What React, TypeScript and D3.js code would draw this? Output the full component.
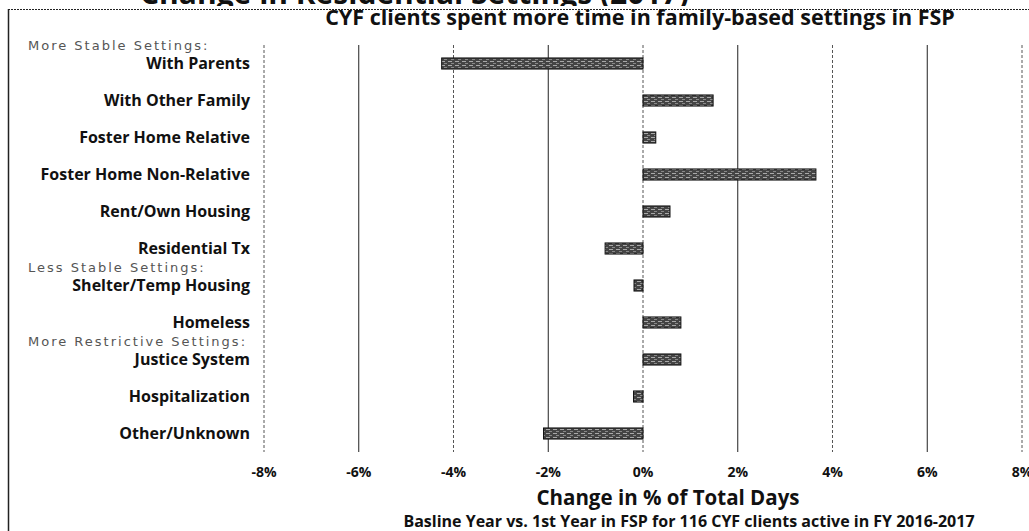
import React from 'react';
import * as d3 from 'd3';

const categories = [
  'With Parents',
  'With Other Family',
  'Foster Home Relative',
  'Foster Home Non-Relative',
  'Rent/Own Housing',
  'Residential Tx',
  'Shelter/Temp Housing',
  'Homeless',
  'Justice System',
  'Hospitalization',
  'Other/Unknown',
];

// change in % of total days
const changes = [-4.25, 1.48, 0.27, 3.65, 0.57, -0.8, -0.19, 0.8, 0.8, -0.2, -2.1];

const ticks = [-8, -6, -4, -2, 0, 2, 4, 6, 8];

const groups = [
  { label: 'More Stable Settings:', before: 'With Parents' },
  { label: 'Less Stable Settings:', before: 'Shelter/Temp Housing' },
  { label: 'More Restrictive Settings:', before: 'Justice System' },
];

const W = 1029;
const H = 531;
const FONT = '"Open Sans", Lato, sans-serif';

const App = () => {
  const x = d3.scaleLinear().domain([-8, 8]).range([264, 1022]);
  const y = d3.scaleBand<string>()
    .domain(categories)
    .range([45, 452])
    .paddingInner(0.7)
    .paddingOuter(0.35);

  const plotTop = 45;
  const plotBottom = 452;

  return (
    <svg width={W} height={H} style={{ display: 'block', position: 'absolute', left: 0, top: 0, background: '#fff' }}>
      <defs>
        <pattern id="grain" width="7" height="4" patternUnits="userSpaceOnUse">
          <rect width="7" height="4" fill="#444" />
          <rect x="0" y="1" width="4" height="1" fill="#a8a8a8" />
          <rect x="3" y="3" width="3" height="1" fill="#888" />
        </pattern>
        <clipPath id="topclip">
          <rect x="0" y="0" width={W} height="6" />
        </clipPath>
      </defs>

      {/* cut-off page heading */}
      <g clipPath="url(#topclip)">
        <text x={140} y={4} style={{ font: `bold 30px ${FONT}`, fill: '#111' }}>
          Change in Residential Settings (2017)
        </text>
      </g>

      {/* frame */}
      <line x1={8} x2={W} y1={9.5} y2={9.5} stroke="#222" strokeWidth={1.2} strokeDasharray="2,1" />
      <line x1={8.5} x2={8.5} y1={9} y2={H} stroke="#222" strokeWidth={1.5} />

      <text x={640} y={25} textAnchor="middle" style={{ font: `bold 21.5px ${FONT}`, fill: '#111' }}>
        CYF clients spent more time in family-based settings in FSP
      </text>

      {/* gridlines */}
      {ticks.map((t, i) => (
        <line
          key={t}
          x1={x(t)}
          x2={x(t)}
          y1={plotTop}
          y2={plotBottom}
          stroke={i % 2 === 1 ? '#222' : '#555'}
          strokeWidth={1}
          strokeDasharray={i % 2 === 1 ? undefined : '3,2'}
        />
      ))}

      {/* bars */}
      {categories.map((c, i) => {
        const v = changes[i];
        return (
          <rect
            key={c}
            x={x(Math.min(0, v))}
            y={y(c)}
            width={Math.abs(x(v) - x(0))}
            height={y.bandwidth()}
            fill="url(#grain)"
            stroke="#111"
            strokeWidth={1}
          />
        );
      })}

      {/* category labels */}
      {categories.map(c => (
        <text
          key={c}
          x={250}
          y={(y(c) ?? 0) + y.bandwidth() / 2}
          dy="0.35em"
          textAnchor="end"
          style={{ font: `bold 16px ${FONT}`, fill: '#111' }}
        >
          {c}
        </text>
      ))}

      {/* group labels */}
      {groups.map(g => (
        <text
          key={g.label}
          x={28}
          y={(y(g.before) ?? 0) - 8}
          style={{ font: `13px "DejaVu Sans", sans-serif`, fill: '#555', letterSpacing: '2px' }}
        >
          {g.label}
        </text>
      ))}

      {/* tick labels */}
      {ticks.map(t => (
        <text
          key={t}
          x={x(t)}
          y={477}
          textAnchor="middle"
          style={{ font: `bold 14px ${FONT}`, fill: '#111' }}
        >
          {`${t}%`}
        </text>
      ))}

      <text x={668} y={505} textAnchor="middle" style={{ font: `bold 20.5px ${FONT}`, fill: '#111' }}>
        Change in % of Total Days
      </text>
      <text x={689} y={527} textAnchor="middle" style={{ font: `bold 16px ${FONT}`, fill: '#111' }}>
        Basline Year vs. 1st Year in FSP for 116 CYF clients active in FY 2016-2017
      </text>
    </svg>
  );
};

export default App;
